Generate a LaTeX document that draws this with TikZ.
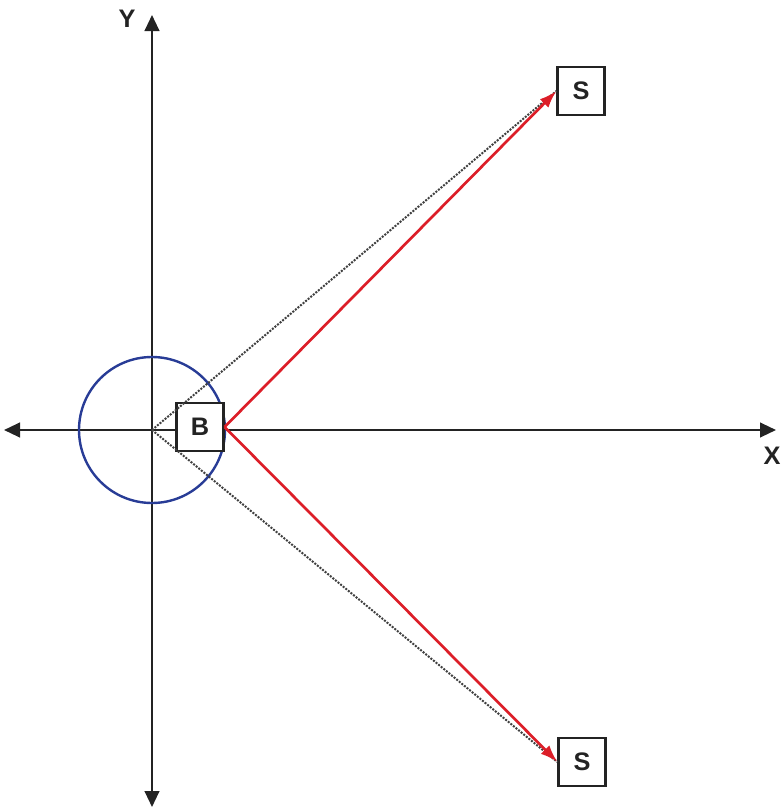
\documentclass[tikz,border=0pt]{standalone}
\usepackage{fontspec}
\setmainfont{Liberation Sans}
\definecolor{circblue}{RGB}{40,60,150}
\definecolor{raired}{RGB}{220,30,40}
\definecolor{axgray}{RGB}{35,35,35}
\usetikzlibrary{arrows.meta,positioning}

\begin{document}
\begin{tikzpicture}[
  x=0.75pt,y=-0.75pt,
  lbl/.style={draw=axgray,line width=1.6pt,minimum width=47*0.75pt,minimum height=48*0.75pt,
    inner sep=0pt,font=\fontsize{19}{21}\selectfont\bfseries,text=axgray,fill=white},
  axis/.style={{Triangle[length=12pt,width=11pt]}-{Triangle[length=12pt,width=11pt]},line width=1.6pt,axgray},
  ray/.style={-{Latex[length=13pt,width=9pt]},line width=2pt,raired},
  sight/.style={densely dotted,line width=1.5pt,black!75},
  axlab/.style={font=\fontsize{19}{21}\selectfont\bfseries,axgray,inner sep=0pt}
]
  \useasboundingbox (0,0) rectangle (781,810);
  % Axes
  \coordinate (O) at (152,430);
  \coordinate (xl) at (4,430);
  \coordinate (xr) at (776,430);
  \coordinate (yt) at (152,15);
  \coordinate (yb) at (152,807);
  \draw[axis] (xl) -- (xr);
  \draw[axis] (yb) -- (yt);
  \node[axlab] (ylab) at (127,19) {Y};
  \node[axlab] (xlab) at (772,456) {X};
  % Circle
  \draw[circblue,line width=1.8pt] (O) circle[radius=73];
  % Boxes
  \node[lbl] (B) at (200,427) {B};
  \node[lbl] (S1) at (581,91) {S};
  \node[lbl] (S2) at (582,762) {S};
  % Lines of sight
  \draw[sight] (O) -- (S1.west);
  \draw[sight] (O) -- (S2.west);
  % Rays
  \draw[ray] (B.east) -- (S1.west);
  \draw[ray] (B.east) -- (S2.west);
\end{tikzpicture}
\end{document}
